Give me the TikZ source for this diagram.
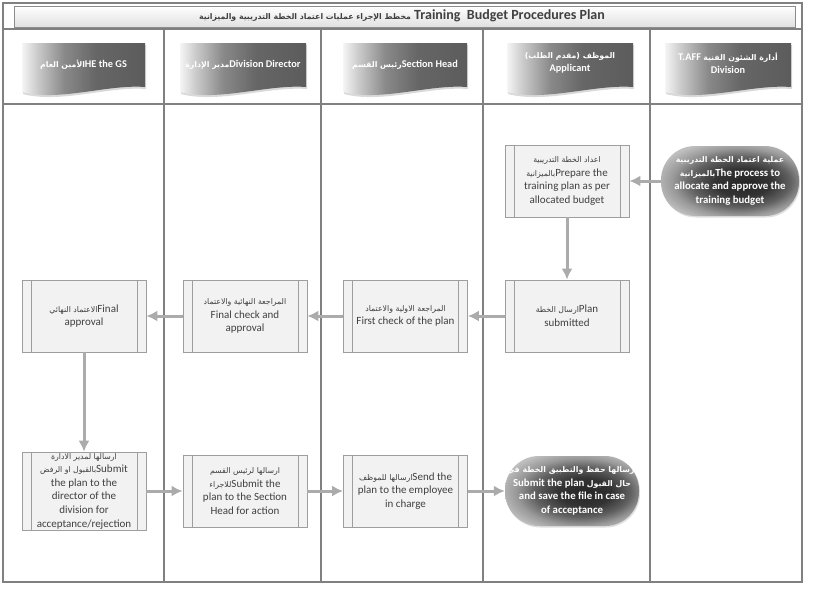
\documentclass[tikz,border=0pt]{standalone}
\usepackage{fontspec}
\setmainfont{Carlito}
\newfontfamily\arabicfont[Script=Arabic]{DejaVu Sans}
\TeXXeTstate=1
\usetikzlibrary{arrows.meta,shadows}
\newcommand{\artxt}[1]{{\arabicfont\fontsize{7.8}{9}\selectfont\beginR #1\endR}}
\pgfdeclarehorizontalshading{hdrshade}{100bp}{color(0bp)=(black!4); color(25bp)=(black!4); color(31bp)=(black!20); color(42bp)=(black!46); color(55bp)=(black!60); color(75bp)=(black!64); color(100bp)=(black!64)}
\pgfdeclareradialshading{ovalshade}{\pgfpoint{6bp}{-1bp}}{color(0bp)=(black!85); color(10bp)=(black!80); color(18bp)=(black!62); color(24bp)=(black!40); color(30bp)=(black!25); color(50bp)=(black!25)}
\begin{document}
\begin{tikzpicture}[x=1pt,y=-1pt,
    frame/.style={draw=black!50,line width=2.4pt},
    hdrtext/.style={text=white,font=\bfseries\fontsize{10.3}{13}\selectfont,align=center,inner sep=1pt},
    procbox/.style={draw=black!38,line width=0.8pt,fill=black!5,minimum width=124pt,minimum height=72pt,
      align=center,text=black!75,font=\fontsize{11}{13.6}\selectfont,inner sep=1pt,
      path picture={\draw[black!38,line width=0.8pt]
        ([xshift=9pt]path picture bounding box.north west) -- ([xshift=9pt]path picture bounding box.south west)
        ([xshift=-9pt]path picture bounding box.north east) -- ([xshift=-9pt]path picture bounding box.south east);}},
    termbox/.style={rounded corners=34pt,shading=ovalshade,minimum height=70pt,text=white,
      font=\bfseries\fontsize{10.8}{13.6}\selectfont,align=center,inner sep=1pt,
      drop shadow={shadow xshift=1pt,shadow yshift=-1.5pt,opacity=.25}},
    flow/.style={draw=black!33,line width=3pt,-{Latex[length=11pt,width=11pt]}}]
  \useasboundingbox (0,0) rectangle (813,595);
  % Lanes, title and headers:
  \shade[top color=white,bottom color=black!12,draw=black!45,line width=0.8pt] (14,6) rectangle (795,27);
  \draw[frame] (3,3) rectangle (802,582);
  \draw[frame] (3,29) -- (802,29);
  \draw[frame] (3,104) -- (802,104);
  \foreach \x in {164,321,483,650}
    \draw[frame] (\x,29) -- (\x,582);
  \foreach \a/\b in {22/145,180/306,343/467,507/633,665/791}
    \shade[shading=hdrshade,drop shadow={shadow xshift=1pt,shadow yshift=-2pt,opacity=.3}]
      (\a,43) -- (\b,43) -- (\b,87) .. controls ({\b-0.3*(\b-\a)},84) and ({\a+0.3*(\b-\a)},102) .. (\a,92) -- cycle;
  \node[font=\bfseries\fontsize{14}{15}\selectfont,text=black!75] (title) at (402,16)
    {{\fontsize{9}{10}\selectfont\artxt{مخطط الإجراء عمليات اعتماد الخطة التدريبية والميزانية}} Training\ \ Budget Procedures Plan};
  \node[hdrtext] (hGS) at (83.5,65) {\artxt{الأمين العام}HE the GS};
  \node[hdrtext] (hDD) at (243,65) {\artxt{مدير الإدارة}Division Director};
  \node[hdrtext] (hSH) at (405,65) {\artxt{رئيس القسم}Section Head};
  \node[hdrtext] (hAP) at (570,63) {\artxt{الموظف (مقدم الطلب)}\\Applicant};
  \node[hdrtext] (hTA) at (728,63) {T.AFF \artxt{أدارة الشئون الفنية}\\Division};
  % Steps:
  \node[termbox,minimum width=138pt] (start) at (730,181)
    {\artxt{عملية اعتماد الخطة التدريبية}\\\artxt{بالميزانية}The process to\\allocate and approve the\\training budget};
  \node[procbox] (prep) at (567,181)
    {\artxt{اعداد الخطة التدريبية}\\\artxt{بالميزانية}Prepare the\\training plan as per\\allocated budget};
  \node[procbox] (plansub) at (567,316) {\artxt{ارسال الخطة}Plan\\submitted};
  \node[procbox] (firstchk) at (405.5,316) {\artxt{المراجعة الاولية والاعتماد}\\First check of the plan};
  \node[procbox] (finalchk) at (245,316) {\artxt{المراجعة النهائية والاعتماد}\\Final check and\\approval};
  \node[procbox] (finalapp) at (84,316) {\artxt{الاعتماد النهائي}Final\\approval};
  \node[procbox] (subdir) at (84,491)
    {\artxt{ارسالها لمدير الادارة}\\\artxt{بالقبول او الرفض}Submit\\the plan to the\\director of the\\division for\\acceptance/rejection};
  \node[procbox] (subsh) at (245,491)
    {\artxt{ارسالها لرئيس القسم}\\\artxt{للاجراء}Submit the\\plan to the Section\\Head for action};
  \node[procbox] (sendemp) at (405.5,491)
    {\artxt{ارسالها للموظف}Send the\\plan to the employee\\in charge};
  \node[termbox,minimum width=134pt] (finish) at (572,491)
    {\artxt{ارسالها حفظ والتطبيق الخطة في}\\Submit the plan \artxt{حال القبول}\\and save the file in case\\of acceptance};
  % Flow:
  \draw[flow] (start) -- (prep);
  \draw[flow] (prep) -- (plansub);
  \draw[flow] (plansub) -- (firstchk);
  \draw[flow] (firstchk) -- (finalchk);
  \draw[flow] (finalchk) -- (finalapp);
  \draw[flow] (finalapp) -- (subdir);
  \draw[flow] (subdir) -- (subsh);
  \draw[flow] (subsh) -- (sendemp);
  \draw[flow] (sendemp) -- (finish);
\end{tikzpicture}
\end{document}
